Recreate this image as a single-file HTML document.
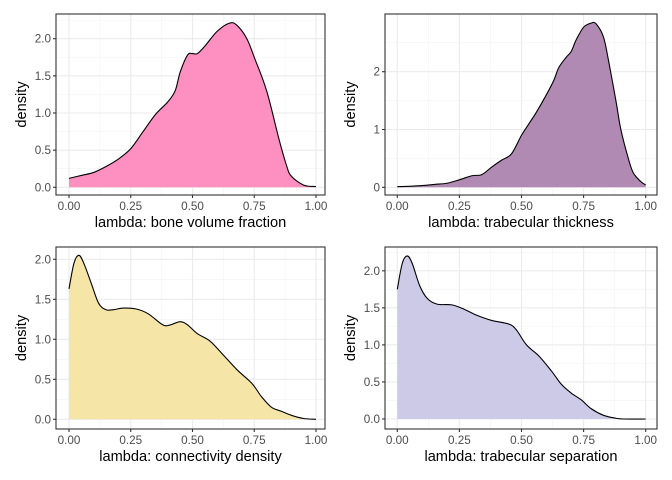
<!DOCTYPE html>
<html><head><meta charset="utf-8"><style>
html,body{margin:0;padding:0;background:#fff;}
svg{display:block;font-family:"Liberation Sans",Arial,sans-serif;}
</style></head><body>
<svg id="chart" width="672" height="480" viewBox="0 0 672 480" xmlns="http://www.w3.org/2000/svg"></svg>
<script>
const xTicks=[0,0.25,0.5,0.75,1];
const xTickLabels=["0.00","0.25","0.50","0.75","1.00"];
const bvfX=[0,0.05,0.1,0.15,0.2,0.25,0.3,0.35,0.4,0.43,0.45,0.48,0.5,0.52,0.55,0.6,0.65,0.68,0.72,0.75,0.8,0.85,0.88,0.9,0.95,1.0];
const bvfY=[0.12,0.16,0.2,0.28,0.38,0.52,0.75,0.98,1.15,1.3,1.55,1.78,1.8,1.8,1.9,2.1,2.21,2.18,2.0,1.75,1.3,0.65,0.3,0.15,0.03,0.01];
const tbtX=[0,0.06,0.1,0.15,0.2,0.25,0.3,0.34,0.38,0.42,0.46,0.5,0.53,0.56,0.6,0.63,0.65,0.68,0.7,0.72,0.75,0.78,0.8,0.83,0.85,0.88,0.9,0.93,0.95,0.98,1.0];
const tbtY=[0.01,0.02,0.03,0.05,0.07,0.13,0.2,0.22,0.35,0.47,0.58,0.9,1.1,1.3,1.6,1.85,2.07,2.25,2.35,2.55,2.77,2.84,2.83,2.6,2.2,1.5,1.0,0.5,0.25,0.1,0.04];
const cdX=[0,0.02,0.04,0.06,0.09,0.12,0.15,0.18,0.22,0.27,0.32,0.38,0.41,0.45,0.48,0.52,0.57,0.62,0.68,0.74,0.78,0.82,0.86,0.9,0.95,1.0];
const cdY=[1.63,1.95,2.05,1.95,1.7,1.45,1.37,1.37,1.39,1.38,1.32,1.18,1.18,1.22,1.18,1.07,0.98,0.82,0.62,0.45,0.28,0.15,0.1,0.05,0.01,0.0];
const tbsX=[0,0.02,0.04,0.06,0.09,0.12,0.16,0.22,0.27,0.32,0.38,0.45,0.48,0.52,0.57,0.62,0.66,0.7,0.74,0.78,0.83,0.88,0.91,1.0];
const tbsY=[1.75,2.1,2.2,2.1,1.8,1.63,1.55,1.54,1.48,1.4,1.33,1.28,1.2,1.0,0.85,0.65,0.47,0.35,0.26,0.14,0.05,0.01,0.0,0.0];
const tickLabels1=["0.0","0.5","1.0","1.5","2.0"];
const ticks1=[0,0.5,1,1.5,2];
const tickLabels2=["0","1","2"];
const ticks2=[0,1,2];

const NS="http://www.w3.org/2000/svg";
const svg=document.getElementById('chart');
function mk(tag,attrs,parent){const e=document.createElementNS(NS,tag);for(const k in attrs)e.setAttribute(k,attrs[k]);(parent||svg).appendChild(e);return e;}
function smooth(pts){
  let d='M'+pts[0][0].toFixed(2)+','+pts[0][1].toFixed(2);
  for(let i=0;i<pts.length-1;i++){
    const p0=pts[Math.max(0,i-1)],p1=pts[i],p2=pts[i+1],p3=pts[Math.min(pts.length-1,i+2)];
    const c1x=p1[0]+(p2[0]-p0[0])/6,c1y=p1[1]+(p2[1]-p0[1])/6;
    const c2x=p2[0]-(p3[0]-p1[0])/6,c2y=p2[1]-(p3[1]-p1[1])/6;
    d+=' C'+c1x.toFixed(2)+','+c1y.toFixed(2)+' '+c2x.toFixed(2)+','+c2y.toFixed(2)+' '+p2[0].toFixed(2)+','+p2[1].toFixed(2);
  }
  return d;
}
function panel(name,box,xs,ys,yT,yL,fill,title){
  const g=mk('g',{});
  
  
  const sx=v=>box.x0+(box.x1-box.x0)*v;
  const sy=v=>box.y0-box.py*v;
  for(let i=0;i<xTicks.length-1;i++){const v=(xTicks[i]+xTicks[i+1])/2;mk('line',{x1:sx(v),x2:sx(v),y1:box.top,y2:box.bottom,stroke:'#f3f3f3','stroke-width':0.6},g);}
  for(let i=0;i<yT.length;i++){const v=yT[i]+(yT[1]-yT[0])/2;if(sy(v)>box.top)mk('line',{x1:box.left,x2:box.right,y1:sy(v),y2:sy(v),stroke:'#f3f3f3','stroke-width':0.6},g);}
  xTicks.forEach(v=>mk('line',{x1:sx(v),x2:sx(v),y1:box.top,y2:box.bottom,stroke:'#ebebeb','stroke-width':1.1},g));
  yT.forEach(v=>mk('line',{x1:box.left,x2:box.right,y1:sy(v),y2:sy(v),stroke:'#ebebeb','stroke-width':1.1},g));
  const pts=xs.map((x,i)=>[sx(x),sy(ys[i])]);
  const curve=smooth(pts);
  const d=curve+' L'+sx(xs[xs.length-1])+','+sy(0)+' L'+sx(xs[0])+','+sy(0)+' Z';
  const a=mk('path',{d:d,fill:fill,stroke:'none'},g);
  
  
  const ln=mk('path',{d:curve,fill:'none',stroke:'#000','stroke-width':1.1,'stroke-linejoin':'round'},g);
  
  
  mk('rect',{x:box.left,y:box.top,width:box.right-box.left,height:box.bottom-box.top,fill:'none',stroke:'#333','stroke-width':1.1},g);
  xTicks.forEach((v,i)=>{
    mk('line',{x1:sx(v),x2:sx(v),y1:box.bottom,y2:box.bottom+3,stroke:'#333','stroke-width':1.1},g);
    const t=mk('text',{x:sx(v),y:box.bottom+15,'text-anchor':'middle','font-size':'11.7px',fill:'#4d4d4d'},g);
    t.textContent=xTickLabels[i];
    
    
  });
  yT.forEach((v,i)=>{
    mk('line',{x1:box.left-3,x2:box.left,y1:sy(v),y2:sy(v),stroke:'#333','stroke-width':1.1},g);
    const t=mk('text',{x:box.left-5,y:sy(v)+4,'text-anchor':'end','font-size':'11.7px',fill:'#4d4d4d'},g);
    t.textContent=yL[i];
    
    
  });
  const xt=mk('text',{x:(box.left+box.right)/2,y:box.bottom+32,'text-anchor':'middle','font-size':'14.6px',fill:'#000'},g);
  xt.textContent=title;
  
  
  const yx=box.yTitleX, yy=(box.top+box.bottom)/2;
  const yt=mk('text',{x:yx,y:yy,'text-anchor':'middle','font-size':'14.6px',fill:'#000',transform:'rotate(-90 '+yx+' '+yy+')'},g);
  yt.textContent='density';
  
  
}
panel('bone-volume-fraction',{left:56,right:325,top:14,bottom:195,x0:69,x1:316,y0:187.3,py:74.3,yTitleX:26},bvfX,bvfY,ticks1,tickLabels1,'#FD8FC1','lambda: bone volume fraction');
panel('trabecular-thickness',{left:385,right:657,top:14,bottom:195,x0:397.3,x1:645.7,y0:187.3,py:57.8,yTitleX:355},tbtX,tbtY,ticks2,tickLabels2,'#B08AB3','lambda: trabecular thickness');
panel('connectivity-density',{left:56,right:325,top:247,bottom:429,x0:69,x1:316,y0:419.3,py:80,yTitleX:26},cdX,cdY,ticks1,tickLabels1,'#F5E6A8','lambda: connectivity density');
panel('trabecular-separation',{left:385,right:657,top:247,bottom:429,x0:397.3,x1:645.7,y0:419,py:74.1,yTitleX:355},tbsX,tbsY,ticks1,tickLabels1,'#CDCAE8','lambda: trabecular separation');
</script>
</body></html>
